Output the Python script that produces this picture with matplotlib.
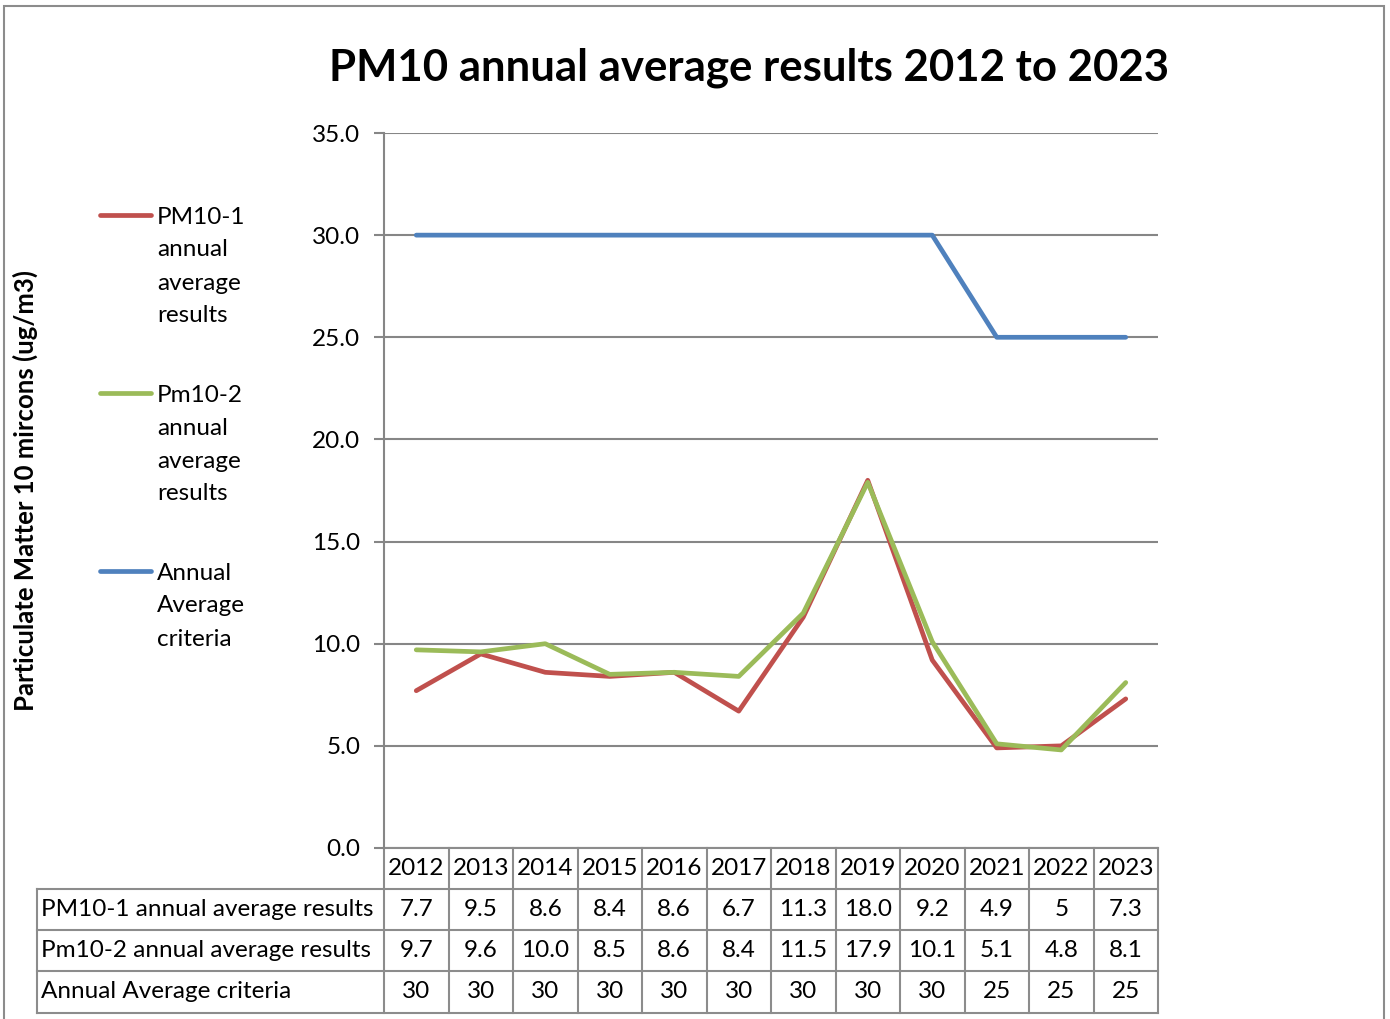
import numpy as np
import matplotlib.pyplot as plt
from matplotlib.lines import Line2D
from matplotlib.patches import Rectangle
import matplotlib.transforms as mtransforms

plt.rcParams['font.family'] = ['Lato', 'DejaVu Sans']

# data
years = ['2012', '2013', '2014', '2015', '2016', '2017', '2018', '2019', '2020', '2021', '2022', '2023']
pm10_1 = [7.7, 9.5, 8.6, 8.4, 8.6, 6.7, 11.3, 18.0, 9.2, 4.9, 5, 7.3]
pm10_2 = [9.7, 9.6, 10.0, 8.5, 8.6, 8.4, 11.5, 17.9, 10.1, 5.1, 4.8, 8.1]
criteria = [30, 30, 30, 30, 30, 30, 30, 30, 30, 25, 25, 25]
pm10_1_txt = ['7.7', '9.5', '8.6', '8.4', '8.6', '6.7', '11.3', '18.0', '9.2', '4.9', '5', '7.3']
pm10_2_txt = ['9.7', '9.6', '10.0', '8.5', '8.6', '8.4', '11.5', '17.9', '10.1', '5.1', '4.8', '8.1']
criteria_txt = ['30'] * 9 + ['25'] * 3
labels = ['PM10-1 annual average results', 'Pm10-2 annual average results', 'Annual Average criteria']
legend_labels = [['PM10-1', 'annual', 'average', 'results'],
                 ['Pm10-2', 'annual', 'average', 'results'],
                 ['Annual', 'Average', 'criteria']]
colors = ['#C0504D', '#9BBB59', '#4F81BD']

FS = 17.5
W, H = 1390, 1019
fig = plt.figure(figsize=(W / 100, H / 100), dpi=100)

# outer chart border
fig.add_artist(Rectangle((4 / W, -0.01), 1380 / W, 1 - 6 / H + 0.01, transform=fig.transFigure,
                         fill=False, edgecolor='#8C8C8C', linewidth=1.5))

ax = fig.add_axes([384 / W, 1 - 848 / H, (1158 - 384) / W, (848 - 133) / H])
x = np.arange(len(years)) + 0.5
series = [pm10_1, pm10_2, criteria]
z = [3, 4, 2]
for s, c, zz in zip(series, colors, z):
    ax.plot(x, s, color=c, linewidth=3.4, solid_capstyle='round', solid_joinstyle='round', zorder=zz)

ax.set_xlim(0, 12)
ax.set_ylim(0, 35)
ax.set_yticks(np.arange(0, 36, 5))
ax.set_yticklabels([f'{v:.1f}' for v in np.arange(0, 36, 5)], fontsize=FS)
ax.yaxis.grid(True, color='#868686', linewidth=1.5)
ax.set_axisbelow(True)
ax.set_xticks([])
for sp in ['top', 'right', 'bottom']:
    ax.spines[sp].set_visible(False)
ax.spines['left'].set_color('#868686')
ax.spines['left'].set_linewidth(1.5)
ax.tick_params(axis='y', length=7, width=1.5, color='#868686', pad=10)

ax.set_ylabel('Particulate Matter 10 mircons (ug/m3)', fontsize=18.5, fontweight='bold')
ax.yaxis.set_label_coords((38 - 384) / (1158 - 384), 0.5)

fig.text(749 / W, 1 - 68 / H, 'PM10 annual average results 2012 to 2023', ha='center', va='center',
         fontsize=31.5, fontweight='bold')

# data table below the axes (x in data coords, y in axes fraction)
trans = mtransforms.blended_transform_factory(ax.transData, ax.transAxes)
ph = 848 - 133
row_edges = [0, -(889 - 848) / ph, -(930 - 848) / ph, -(971 - 848) / ph, -(1013 - 848) / ph]
lab_left = (37 - 384) / ((1158 - 384) / 12)
gc = '#8C8C8C'
lw = 1.5
ax.plot([0, 12], [row_edges[0]] * 2, color=gc, lw=lw, transform=trans, clip_on=False)
for r in row_edges[1:]:
    ax.plot([lab_left, 12], [r, r], color=gc, lw=lw, transform=trans, clip_on=False)
for i in range(13):
    ax.plot([i, i], [row_edges[0], row_edges[-1]], color=gc, lw=lw, transform=trans, clip_on=False)
ax.plot([lab_left, lab_left], [row_edges[1], row_edges[-1]], color=gc, lw=lw, transform=trans, clip_on=False)

for i, yr in enumerate(years):
    ax.text(i + 0.5, (row_edges[0] + row_edges[1]) / 2, yr, ha='center', va='center',
            fontsize=FS, transform=trans)
for k, (lab, vals) in enumerate(zip(labels, [pm10_1_txt, pm10_2_txt, criteria_txt])):
    yc = (row_edges[k + 1] + row_edges[k + 2]) / 2
    ax.text(lab_left + 0.06, yc, lab, ha='left', va='center', fontsize=FS, transform=trans)
    for i, v in enumerate(vals):
        ax.text(i + 0.5, yc, v, ha='center', va='center', fontsize=FS, transform=trans)

# legend on the left
leg_y = [215, 393, 571]
for lines, c, yy in zip(legend_labels, colors, leg_y):
    fig.add_artist(Line2D([100 / W, 151 / W], [1 - yy / H] * 2, color=c, linewidth=3.4,
                          solid_capstyle='round', transform=fig.transFigure))
    for j, t in enumerate(lines):
        fig.text(157 / W, 1 - (yy + 33 * j) / H, t, ha='left', va='center_baseline', fontsize=FS)

fig.savefig('out.png', dpi=100)
